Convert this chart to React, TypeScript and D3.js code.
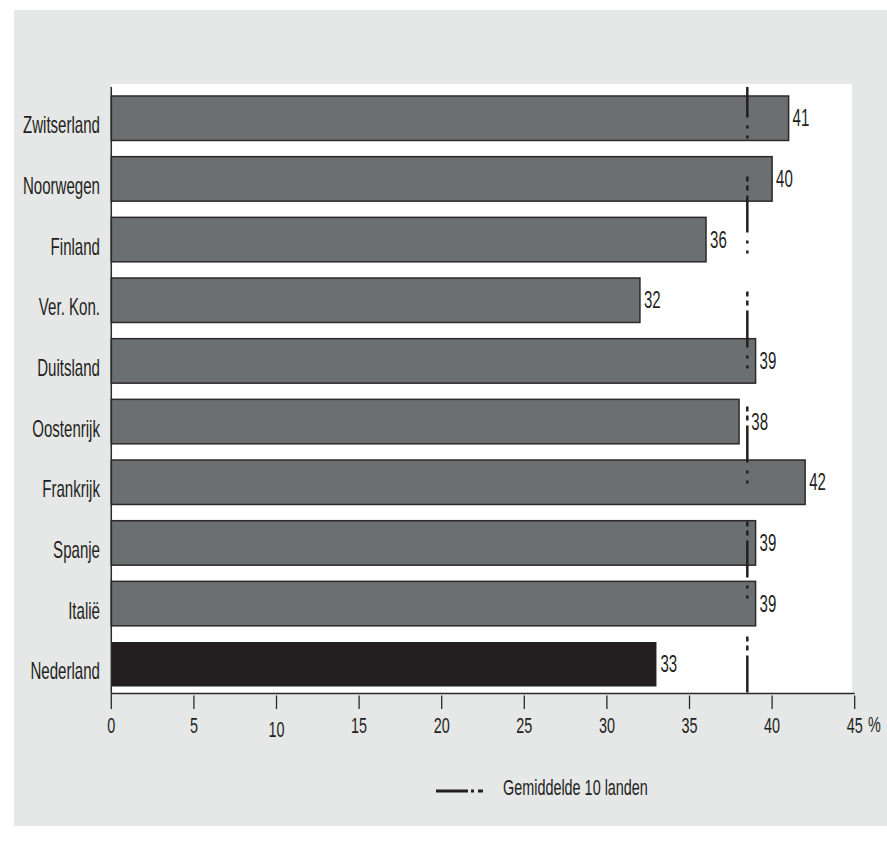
import React from "react";
import * as d3 from "d3";

const categories = ["Zwitserland", "Noorwegen", "Finland", "Ver. Kon.", "Duitsland", "Oostenrijk", "Frankrijk", "Spanje", "Italië", "Nederland"];
const values = [41, 40, 36, 32, 39, 38, 42, 39, 39, 33];
const highlight = ["Nederland"];
const average = 38.5;
const averageLabel = "Gemiddelde 10 landen";
const ticks = [0, 5, 10, 15, 20, 25, 30, 35, 40, 45];
const unitLabel = "%";

const W = 887, H = 846;
const FONT = "'Liberation Sans Narrow', 'Liberation Sans', Arial, sans-serif";
const FS = 23;
const SX = 0.655;

function T({ x, y, anchor = "start", size = FS, children }: any) {
  return (
    <text
      transform={`translate(${x},${y}) scale(${SX},1)`}
      textAnchor={anchor}
      fontFamily={FONT}
      fontSize={size}
      fill="#231f20"
    >
      {children}
    </text>
  );
}

export default function App() {
  const x = d3.scaleLinear().domain([0, 45]).range([111.3, 854.7]);
  const y = d3.scaleBand<string>().domain(categories).range([96, 686.5]).paddingInner(0.267).paddingOuter(0);
  const bw = y.bandwidth();
  const axisY = 693.5;
  const avgX = x(average);
  const lineTop = 87;

  const labelX = (v: number) => {
    const end = x(v) + 4;
    if (end > avgX - 8 && end < avgX + 4) return avgX + 4;
    return end;
  };

  return (
    <div style={{ position: "absolute", left: 0, top: 0 }}>
      <svg width={W} height={H} style={{ display: "block" }}>
        <rect x={0} y={0} width={W} height={H} fill="#ffffff" />
        <rect x={14} y={10} width={W - 14} height={816} fill="#e6e7e7" />
        <rect x={x(0)} y={84} width={852 - x(0)} height={axisY - 84} fill="#ffffff" />

        {categories.map((c, i) => {
          const yy = y(c)!;
          const isH = highlight.includes(c);
          return (
            <g key={c}>
              <rect
                x={x(0)}
                y={yy}
                width={x(values[i]) - x(0)}
                height={bw}
                fill={isH ? "#231f20" : "#6c6f6f"}
                stroke={isH ? "none" : "#2a2a2a"}
                strokeWidth={1.5}
              />
              <T x={labelX(values[i])} y={yy + bw / 2 + 8}>{values[i]}</T>
              <T x={100} y={yy + bw / 2 + 15} anchor="end">{c}</T>
            </g>
          );
        })}

        {/* y axis line */}
        <line x1={x(0)} x2={x(0)} y1={lineTop} y2={axisY} stroke="#2a2a2a" strokeWidth={1.5} />

        {/* average line */}
        <line
          x1={avgX}
          x2={avgX}
          y1={lineTop}
          y2={axisY}
          stroke="#231f20"
          strokeWidth={2.5}
          strokeDasharray="5,4,5,5,37,8,3,7,3,38"
          strokeDashoffset={25.5}
        />

        {/* x axis */}
        <line x1={x(0)} x2={x(45)} y1={axisY} y2={axisY} stroke="#2a2a2a" strokeWidth={1.5} />
        {ticks.map((t) => (
          <g key={t}>
            <line x1={x(t)} x2={x(t)} y1={t === 0 ? axisY : axisY + 2} y2={709} stroke="#2a2a2a" strokeWidth={1.3} />
            <T x={x(t)} y={t === 10 ? 737 : 733} anchor="middle" size={22}>{t}</T>
          </g>
        ))}
        <T x={868} y={732} size={22}>{unitLabel}</T>

        {/* legend */}
        <line x1={436} x2={468} y1={791} y2={791} stroke="#231f20" strokeWidth={3} />
        <line x1={471} x2={474} y1={791} y2={791} stroke="#231f20" strokeWidth={3} />
        <line x1={478} x2={483} y1={791} y2={791} stroke="#231f20" strokeWidth={3} />
        <T x={503} y={795} size={22}>{averageLabel}</T>
      </svg>
    </div>
  );
}
